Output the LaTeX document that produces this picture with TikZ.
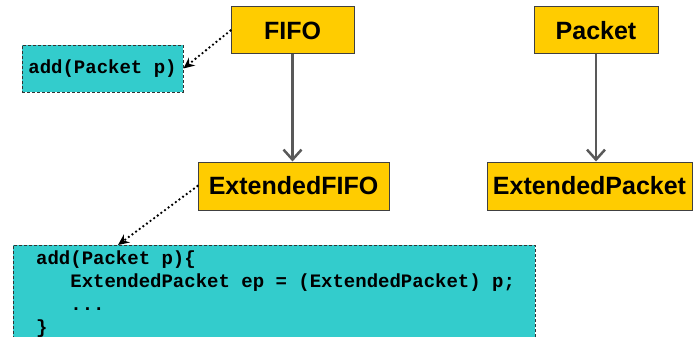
\documentclass[tikz,border=0pt]{standalone}
\usepackage{fontspec}
\setsansfont{Liberation Sans}
\setmonofont{Liberation Mono}
\usetikzlibrary{arrows.meta}
\definecolor{classyellow}{HTML}{FFCC00}
\definecolor{codeteal}{HTML}{33CCCC}
\definecolor{linegray}{HTML}{595959}

\begin{document}
\begin{tikzpicture}[x=1pt,y=-1pt,
    classbox/.style={draw=black!75, line width=1pt, fill=classyellow, minimum height=47pt,
        font=\sffamily\bfseries\fontsize{25}{30}\selectfont},
    codebox/.style={draw=black!80, dash pattern=on 3pt off 2pt, line width=0.8pt, fill=codeteal},
    codetext/.style={font=\ttfamily\bfseries\fontsize{19}{23}\selectfont},
    inherit/.style={-{Straight Barb[length=10pt,width=18pt]}, draw=linegray, line width=2.5pt},
    uses/.style={-{Stealth[length=11pt,width=10pt]}, line cap=round, dash pattern=on 0pt off 4.5pt, line width=2.6pt}]
        \useasboundingbox (0,0) rectangle (694,337);
        \clip (0,0) rectangle (694,337);
        % classes
        \node[classbox, minimum width=123pt] (fifo) at (292.5,30.5) {FIFO};
        \node[classbox, minimum width=124pt] (packet) at (596,30.5) {Packet};
        \node[classbox, minimum width=191pt, minimum height=48pt] (extfifo) at (293.5,186) {ExtendedFIFO};
        \node[classbox, minimum width=205pt, minimum height=48pt] (extpacket) at (589.5,186) {ExtendedPacket};
        % code
        \node[codebox, codetext, minimum width=161pt, minimum height=47pt, inner sep=0pt] (addbox) at (102.5,68.5) {add(Packet p)};
        \node[codebox, minimum width=522pt, minimum height=110pt, anchor=north west] (code) at (13,245) {};
        \node[codetext, anchor=north west, align=left, inner sep=0pt] (codelines) at (36,251)
            {add(Packet p)\{\\
             \hspace*{34.2pt}ExtendedPacket ep = (ExtendedPacket) p;\\
             \hspace*{34.2pt}...\\
             \}};
        \coordinate (codetip) at (118,245);
        % arrows
        \draw[inherit] (fifo.south) -- (fifo.south |- extfifo.north);
        \draw[inherit] (packet.south) -- (packet.south |- extpacket.north);
        \draw[uses] (fifo.west) -- (addbox.east);
        \draw[uses] (extfifo.west) -- (codetip);
\end{tikzpicture}
\end{document}
